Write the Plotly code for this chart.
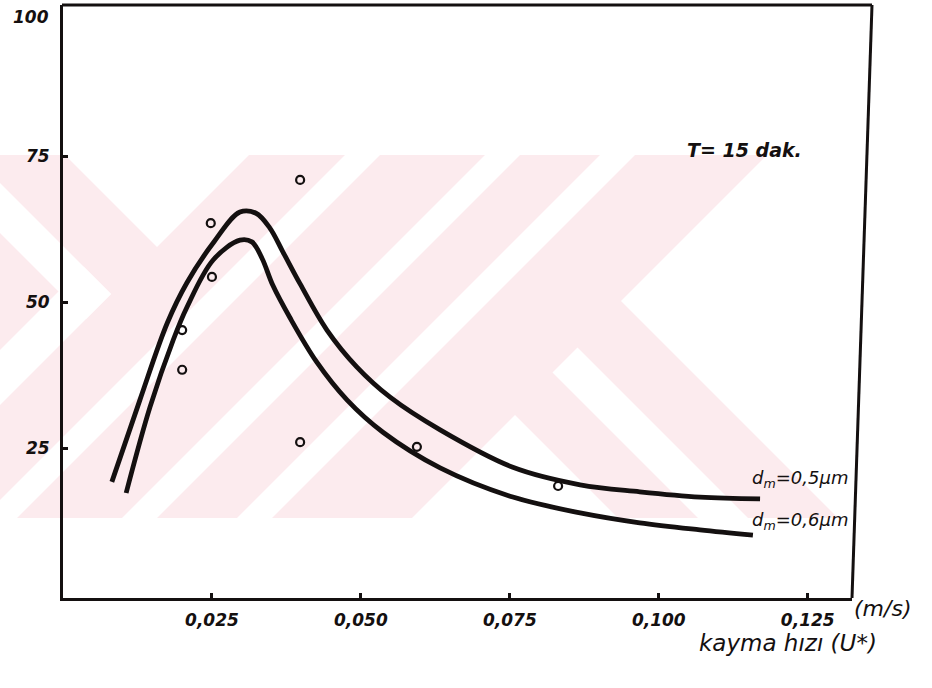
import plotly.graph_objects as go

# Curve for d_m = 0,5 um : shear velocity (m/s) vs. percentage
u_05 = [0.0082, 0.0129, 0.0175, 0.0208, 0.0252, 0.0297, 0.0324, 0.0347, 0.0369, 0.0398,
        0.0443, 0.0493, 0.0549, 0.0633, 0.0755, 0.0868, 0.0968, 0.1069, 0.1170]
p_05 = [19.2, 33.2, 46.4, 53.3, 60.1, 65.4, 65.2, 62.7, 58.6, 53.1,
        45.2, 38.9, 33.7, 28.1, 21.7, 18.7, 17.5, 16.6, 16.3]

# Curve for d_m = 0,6 um
u_06 = [0.0106, 0.0146, 0.0185, 0.0208, 0.0252, 0.0297, 0.0317, 0.0334, 0.0352, 0.0381,
        0.0426, 0.0477, 0.0537, 0.0633, 0.0755, 0.0868, 0.0968, 0.1069, 0.1158]
p_06 = [17.3, 32.0, 43.5, 49.1, 57.2, 60.6, 60.3, 57.5, 52.9, 47.3,
        39.7, 33.2, 27.7, 21.6, 16.6, 13.9, 12.2, 11.0, 10.1]

# Measured points
u_obs = [0.0248, 0.0250, 0.0200, 0.0200, 0.0398, 0.0398, 0.0594, 0.0831]
p_obs = [63.5, 54.3, 45.2, 38.4, 70.9, 26.0, 25.2, 18.5]

x_tickvals = [0.025, 0.050, 0.075, 0.100, 0.125]
x_ticktext = ["0,025", "0,050", "0,075", "0,100", "0,125"]
y_tickvals = [25, 50, 75]
y_ticktext = ["25", "50", "75"]
y_top_label = "100"

W, H = 932, 688
L, R, T, B = 63, 852, 5, 598
X_RANGE = [0, 0.13243]
Y_RANGE = [-0.68, 100.86]

INK = "#141010"
PINK = "#fcebee"


def xp(px):
    return (px - L) / (R - L)


def yp(py):
    return (B - py) / (B - T)


def clip(poly, a, b, c):
    """Keep the part of poly where a*x + b*y <= c."""
    out = []
    n = len(poly)
    for i in range(n):
        p, q = poly[i], poly[(i + 1) % n]
        fp = a * p[0] + b * p[1] - c
        fq = a * q[0] + b * q[1] - c
        if fp <= 0:
            out.append(p)
        if (fp < 0 < fq) or (fq < 0 < fp):
            t = fp / (fp - fq)
            out.append((p[0] + t * (q[0] - p[0]), p[1] + t * (q[1] - p[1])))
    return out


def region(planes):
    poly = [(0, 155), (W, 155), (W, 518), (0, 518)]
    for a, b, c in planes:
        poly = clip(poly, a, b, c)
        if not poly:
            break
    return poly


def path_of(poly):
    pts = [f"{xp(x):.5f},{yp(y):.5f}" for x, y in poly]
    return "M" + "L".join(pts) + "Z"


# background mark: pale band with white diagonal gaps (pixel space, y downwards)
gaps = [
    [(-1, 1, 90), (1, 1, 404)],
    [(1, -1, -183), (-1, 1, 233), (1, 1, 405)],
    [(1, -1, -183), (-1, -1, -350), (1, 1, 405)],
    [(-1, -1, -500), (1, 1, 535)],
    [(-1, -1, -640), (1, 1, 675)],
    [(-1, -1, -755), (1, 1, 790)],
    [(-1, -1, -922), (-1, 1, -320)],
    [(-1, -1, -925), (1, -1, 230), (-1, 1, -180)],
    [(-1, -1, -930), (1, -1, 100)],
]

shapes = [dict(type="rect", xref="paper", yref="paper", layer="below",
               x0=xp(0), x1=xp(W), y0=yp(518), y1=yp(155),
               fillcolor=PINK, line=dict(width=0))]
for g in gaps:
    poly = region(g)
    if len(poly) >= 3:
        shapes.append(dict(type="path", xref="paper", yref="paper", layer="below",
                           path=path_of(poly), fillcolor="white", line=dict(width=0)))

# hand-drawn frame: top edge and slightly leaning right edge
shapes.append(dict(type="line", xref="paper", yref="paper",
                   x0=xp(L - 1), y0=yp(T), x1=xp(872), y1=yp(T),
                   line=dict(color=INK, width=3)))
shapes.append(dict(type="line", xref="paper", yref="paper",
                   x0=xp(872), y0=yp(T), x1=xp(852), y1=yp(B),
                   line=dict(color=INK, width=3)))

fig = go.Figure()
fig.add_trace(go.Scatter(x=u_05, y=p_05, mode="lines", name="d_m=0,5",
                         line=dict(color=INK, width=4.8, shape="spline", smoothing=1.0)))
fig.add_trace(go.Scatter(x=u_06, y=p_06, mode="lines", name="d_m=0,6",
                         line=dict(color=INK, width=4.8, shape="spline", smoothing=1.0)))
fig.add_trace(go.Scatter(x=u_obs, y=p_obs, mode="markers", name="obs",
                         marker=dict(symbol="circle-open", size=8, color=INK,
                                     line=dict(width=2.2, color=INK))))

tick_font = dict(family="DejaVu Sans", size=17, color=INK, weight="bold", style="italic")


def note(text, px, py, size, bold=False):
    return dict(text=text, xref="paper", yref="paper", x=xp(px), y=yp(py),
                xanchor="center", yanchor="middle", showarrow=False,
                font=dict(family="DejaVu Sans", size=size, color=INK,
                          weight="bold" if bold else "normal", style="italic"))


fig.update_layout(
    width=W, height=H,
    margin=dict(l=L, r=W - R, t=T, b=H - B, pad=0),
    paper_bgcolor="white", plot_bgcolor="rgba(0,0,0,0)",
    showlegend=False,
    shapes=shapes,
    xaxis=dict(range=X_RANGE, tickvals=x_tickvals, ticktext=x_ticktext,
               ticks="inside", ticklen=5, tickwidth=2.5, tickcolor=INK,
               showline=True, linewidth=3, linecolor=INK, showgrid=False,
               zeroline=False, tickfont=tick_font, ticklabelstandoff=5),
    yaxis=dict(range=Y_RANGE, tickvals=y_tickvals, ticktext=y_ticktext,
               ticks="inside", ticklen=5, tickwidth=2.5, tickcolor=INK,
               showline=True, linewidth=3, linecolor=INK, showgrid=False,
               zeroline=False, tickfont=tick_font, ticklabelstandoff=7),
    annotations=[
        note(y_top_label, 31, 17, 17, bold=True),
        note("T= 15 dak.", 744, 150, 19, bold=True),
        note("d<sub>m</sub>=0,5μm", 800, 479, 18),
        note("d<sub>m</sub>=0,6μm", 800, 521, 18),
        note("(m/s)", 882, 608, 22),
        note("kayma hızı (U*)", 788, 643, 23),
    ],
)

fig.write_html("out.html")
